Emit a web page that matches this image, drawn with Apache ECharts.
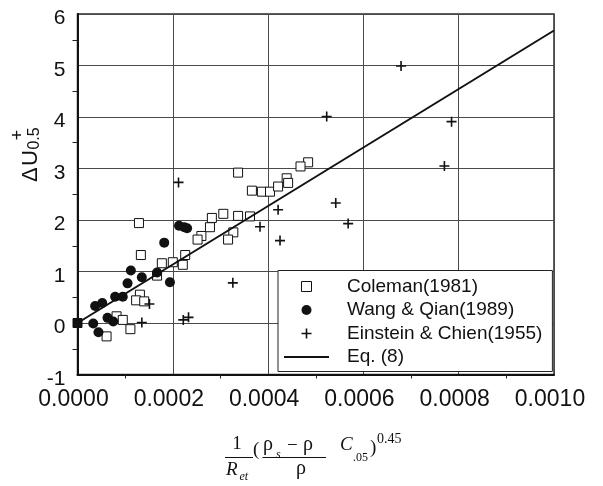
<!DOCTYPE html>
<html>
<head>
<meta charset="utf-8">
<script src="https://cdn.jsdelivr.net/npm/echarts@6/dist/echarts.min.js"></script>
<style>
  html, body { margin: 0; padding: 0; background: #fff; }
  #chart { width: 603px; height: 486px; }
</style>
</head>
<body>
<div id="chart"></div>
<script>
// Coleman (1981)
const colemanX = [0, 0.000337, 0.000484, 0.000468, 0.000366, 0.000387, 0.000404, 0.000421, 0.000439, 0.000442,
  0.000306, 0.000282, 0.000337, 0.000362, 0.000327, 0.000316, 0.000278, 0.000260, 0.000252, 0.000226,
  0.000200, 0.000221, 0.000177, 0.000129, 0.000133, 0.000167, 0.000131, 0.000123, 0.000140, 0.000082,
  0.000095, 0.000111, 0.000061];
const colemanY = [0, 2.92, 3.12, 3.04, 2.57, 2.55, 2.55, 2.65, 2.81, 2.72,
  2.12, 2.04, 2.08, 2.07, 1.76, 1.62, 1.86, 1.69, 1.62, 1.32,
  1.18, 1.13, 1.16, 1.94, 1.32, 0.92, 0.55, 0.44, 0.42, 0.13,
  0.06, -0.12, -0.26];

// Wang & Qian (1989)
const wangX = [0.000213, 0.000224, 0.000230, 0.000182, 0.000112, 0.000135, 0.000167, 0.000105, 0.000194,
  0.000079, 0.000095, 0.000052, 0.000037, 0.000063, 0.000075, 0.000033, 0.000044];
const wangY = [1.89, 1.86, 1.84, 1.56, 1.02, 0.89, 0.98, 0.77, 0.79,
  0.51, 0.51, 0.39, 0.33, 0.10, 0.03, -0.01, -0.18];

// Einstein & Chien (1955)
const einsteinX = [0.000679, 0.000523, 0.000785, 0.000770, 0.000212, 0.000421, 0.000542, 0.000383,
  0.000425, 0.000568, 0.000326, 0.000151, 0.000135, 0.000222, 0.000233];
const einsteinY = [4.99, 4.01, 3.91, 3.05, 2.73, 2.20, 2.33, 1.87,
  1.60, 1.93, 0.78, 0.37, 0.01, 0.06, 0.11];

// Eq. (8)
const eqX = [0, 0.001];
const eqY = [0, 5.68];

const xTicks = { min: 0, max: 0.001, interval: 0.0002 };
const yTicks = { min: -1, max: 6, interval: 1 };

const sans = '"Liberation Sans", Arial, Helvetica, sans-serif';
const serif = '"Liberation Serif", "Times New Roman", serif';

const pairs = (xs, ys) => xs.map((x, i) => [x, ys[i]]);

const colemanData = pairs(colemanX, colemanY).map((p, i) =>
  i === 0 ? { value: p, itemStyle: { color: '#111' } } : p);

const crossPath = 'path://M0,4.2H10V5.8H0ZM4.2,0H5.8V10H4.2Z';
const squarePath = 'path://M0,0H10V10H0Z';
const linePath = 'path://M0,0H45V2H0Z';

const chart = echarts.init(document.getElementById('chart'), null, { renderer: 'canvas' });

const txt = (text, x, y, opt) => Object.assign({
  type: 'text', x: x, y: y, z: 100,
  style: Object.assign({ text: text, fill: '#111', fontFamily: serif, fontSize: 19,
    align: 'left', verticalAlign: 'middle' }, opt && opt.style)
}, opt && opt.props);

chart.setOption({
  animation: false,
  backgroundColor: '#fff',
  grid: {
    left: 77.5, top: 14, right: 49, bottom: 111.5,
    show: true, borderColor: '#2a2a2a', borderWidth: 1.5, backgroundColor: 'transparent'
  },
  xAxis: {
    type: 'value',
    min: xTicks.min, max: xTicks.max, interval: xTicks.interval,
    axisLine: { show: true, onZero: false, lineStyle: { color: '#111', width: 2 } },
    axisTick: { show: false },
    minorTick: { show: true, splitNumber: 2, length: 4, lineStyle: { color: '#222', width: 1 } },
    splitLine: { show: true, lineStyle: { color: '#4a4a4a', width: 1 } },
    axisLabel: {
      margin: 14, fontSize: 23, color: '#111', fontFamily: sans,
      padding: [0, 8, 0, 0],
      formatter: v => v.toFixed(4)
    }
  },
  yAxis: {
    type: 'value',
    min: yTicks.min, max: yTicks.max, interval: yTicks.interval,
    axisLine: { show: true, onZero: false, lineStyle: { color: '#111', width: 2 } },
    axisTick: { show: false },
    minorTick: { show: true, splitNumber: 2, length: 5, lineStyle: { color: '#222', width: 1 } },
    splitLine: { show: true, lineStyle: { color: '#4a4a4a', width: 1 } },
    axisLabel: {
      margin: 12, fontSize: 21, color: '#111', fontFamily: sans,
      verticalAlign: 'top', lineHeight: 9
    }
  },
  legend: {
    orient: 'vertical',
    left: 278, top: 270.5,
    padding: [6.5, 10, 5, 6],
    itemGap: 4.5,
    itemWidth: 45, itemHeight: 10,
    symbolKeepAspect: true,
    backgroundColor: '#fff',
    borderColor: '#222', borderWidth: 1,
    textStyle: { fontSize: 19, fontFamily: sans, color: '#111', padding: [0, 0, 0, 13] },
    data: [
      { name: 'Coleman(1981)', icon: squarePath, itemStyle: { color: '#fff', borderColor: '#111', borderWidth: 1 } },
      { name: 'Wang & Qian(1989)', icon: 'circle' },
      { name: 'Einstein & Chien(1955)', icon: crossPath },
      { name: 'Eq. (8)', icon: linePath, itemStyle: { color: '#111', borderWidth: 0 } }
    ]
  },
  series: [
    {
      name: 'Coleman(1981)', type: 'scatter', symbol: 'rect', symbolSize: 9,
      itemStyle: { color: '#fff', borderColor: '#111', borderWidth: 1, opacity: 1 },
      data: colemanData, z: 2
    },
    {
      name: 'Wang & Qian(1989)', type: 'scatter', symbol: 'circle', symbolSize: 10,
      itemStyle: { color: '#111', opacity: 1 },
      data: pairs(wangX, wangY), z: 3
    },
    {
      name: 'Einstein & Chien(1955)', type: 'scatter', symbol: crossPath, symbolSize: 10,
      itemStyle: { color: '#111', opacity: 1 },
      data: pairs(einsteinX, einsteinY), z: 4
    },
    {
      name: 'Eq. (8)', type: 'line', symbol: 'none', silent: true, color: '#111',
      itemStyle: { color: '#111' },
      lineStyle: { color: '#111', width: 2 },
      data: pairs(eqX, eqY), z: 5
    }
  ],
  graphic: [
    // y-axis title: ΔU+0.5, rotated
    txt('Δ', 42, 182, { style: { fontFamily: sans, fontSize: 22, verticalAlign: 'bottom' }, props: { rotation: Math.PI / 2 } }),
    txt('U', 42, 166, { style: { fontFamily: sans, fontSize: 22, verticalAlign: 'bottom' }, props: { rotation: Math.PI / 2 } }),
    txt('+', 18, 135, { style: { fontFamily: sans, fontSize: 18, align: 'center' }, props: { rotation: Math.PI / 2 } }),
    txt('0.5', 35, 138.5, { style: { fontFamily: sans, fontSize: 16, align: 'center' }, props: { rotation: Math.PI / 2 } }),

    // x-axis title: 1/R_et ((ρs − ρ)/ρ C.05)^0.45
    txt('1', 237, 444, { style: { align: 'center' } }),
    { type: 'line', z: 100, shape: { x1: 225, y1: 457.5, x2: 253, y2: 457.5 }, style: { stroke: '#111', lineWidth: 1 } },
    txt('R', 226, 469.5, { style: { fontStyle: 'italic' } }),
    txt('et', 239.5, 477, { style: { fontStyle: 'italic', fontSize: 12 } }),
    txt('(', 253, 450),
    txt('ρ', 263, 445, { style: { fontSize: 20 } }),
    txt('s', 276, 455, { style: { fontStyle: 'italic', fontSize: 12 } }),
    txt('−', 287, 446),
    txt('ρ', 303, 445, { style: { fontSize: 20 } }),
    { type: 'line', z: 100, shape: { x1: 262.5, y1: 457.5, x2: 326, y2: 457.5 }, style: { stroke: '#111', lineWidth: 1 } },
    txt('ρ', 301, 469, { style: { align: 'center', fontSize: 20 } }),
    txt('C', 340, 445, { style: { fontStyle: 'italic' } }),
    txt('.05', 353, 458, { style: { fontSize: 12 } }),
    txt(')', 370, 448),
    txt('0.45', 377, 439, { style: { fontSize: 14 } })
  ]
});
</script>
</body>
</html>
